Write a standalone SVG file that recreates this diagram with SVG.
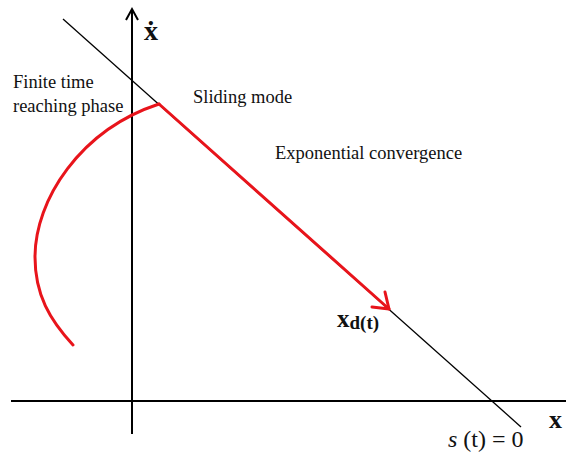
<svg xmlns="http://www.w3.org/2000/svg" width="574" height="457" viewBox="0 0 574 457">
<style>
.t{font-family:"Liberation Serif","Times New Roman",serif;fill:#111}
.lb{font-size:18.5px}
.ax{stroke:#000;stroke-width:2;fill:none}
.red{stroke:#e8141b;stroke-width:3;fill:none;stroke-linecap:round;stroke-linejoin:round}
</style>
<rect width="574" height="457" fill="#fff"/>
<g id="connectors">
<line class="ax" x1="11" y1="401" x2="566" y2="401"/>
<line class="ax" x1="132" y1="434" x2="132" y2="10"/>
<polyline class="ax" points="126,20 132,9 138,20"/>
<line x1="63" y1="19" x2="521" y2="427" stroke="#000" stroke-width="1.3"/>
<path class="red" d="M159,104 C80,130 35,200 35,257 C35,295 50,320 73,345"/>
<line class="red" x1="159" y1="104" x2="389" y2="309"/>
<polyline class="red" points="372,307 389,309 385,292"/>
</g>
<g id="labels">
<text class="t" x="144" y="40" font-size="28" font-weight="bold">ẋ</text>
<text class="t lb" x="13" y="88">Finite time</text>
<text class="t lb" x="13" y="112">reaching phase</text>
<text class="t lb" x="193" y="103">Sliding mode</text>
<text class="t lb" x="275" y="159">Exponential convergence</text>
<text class="t" x="337" y="327" font-size="25" font-weight="bold">x<tspan font-size="19" dy="2">d(t)</tspan></text>
<text class="t" x="549" y="428" font-size="26" font-weight="bold">x</text>
<text class="t" x="448" y="447" font-size="24"><tspan font-style="italic">s</tspan> (t) = 0</text>
</g>
</svg>
